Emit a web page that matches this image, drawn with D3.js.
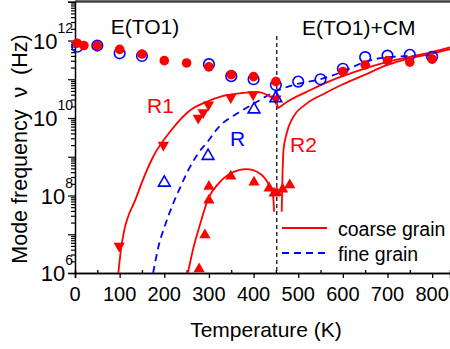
<!DOCTYPE html>
<html><head><meta charset="utf-8">
<script src="https://cdn.jsdelivr.net/npm/d3@7"></script>
<style>
body{margin:0;background:#fff}
svg{display:block}
text{font-family:"Liberation Sans",Arial,Helvetica,sans-serif}
</style>
</head><body>
<svg id="c" width="450" height="349"></svg>
<script>
// ---------------- data (temperature K, frequency Hz) ----------------
const xTicks = [0,100,200,300,400,500,600,700,800];
const xMinorTicks = [50,150,250,350,450,550,650,750];
const yDecades = [1e6,1e7,1e8,1e9,1e10,1e11,1e12,1e13];
const yLabelExps = [6,8,10,12];

// E(TO1) mode, coarse grain (filled red circles)
const coarseTO_T = [5,20,50,100,150,200,250,300,350,400,450,600,650,700,750,800];
const coarseTO_v = [8.51e11,7.41e11,7.41e11,5.89e11,4.47e11,3.02e11,2.63e11,2.09e11,1.32e11,1.17e11,8.71e10,1.58e11,2.34e11,3.02e11,2.75e11,3.31e11];

// E(TO1) mode, fine grain (open blue circles)
const fineTO_T = [5,50,100,150,300,350,400,450,500,550,600,650,700,750,800];
const fineTO_v = [6.92e11,7.41e11,4.68e11,3.98e11,2.45e11,1.20e11,1.00e11,7.08e10,8.71e10,1.00e11,1.86e11,3.72e11,4.07e11,4.27e11,3.80e11];

// R1 relaxation, coarse grain (filled red down triangles)
const coarseR1_T = [99,198,276,287,299,349,399,450];
const coarseR1_v = [5.01e6,2.00e9,1.00e10,1.38e10,2.19e10,3.39e10,4.07e10,3.16e10];

// lower relaxation, coarse grain (filled red up triangles)
const coarseLow_T = [278,291,300,300,349,401,435,446,452,465,481];
const coarseLow_v = [1.26e6,9.55e6,7.59e7,1.70e8,3.16e8,2.19e8,1.55e8,1.15e8,1.17e8,1.45e8,1.86e8];

// R relaxation, fine grain (open blue triangles)
const fineR_T = [200,298,401,450];
const fineR_v = [2.14e8,1.05e9,1.66e10,3.24e10];

// fitted curves
const curveR1a_T = [97,105,138,175,216,258,295,332,377,407,437,452,455];
const curveR1a_v = [1.00e6,5.89e6,9.33e7,1.00e9,4.90e9,1.58e10,2.63e10,3.72e10,4.47e10,4.68e10,3.55e10,2.40e10,1.78e10];
const curveR1b_T = [455,480,520,560,600,650,700,750,800,840];
const curveR1b_v = [1.78e10,2.82e10,4.79e10,7.94e10,1.20e11,1.91e11,2.82e11,3.80e11,5.01e11,6.61e11];
const curveR2_T = [463,465,467,474,489,515,560,600,650,700,750,800,840];
const curveR2_v = [3.80e7,3.98e8,1.48e9,3.98e9,1.07e10,2.19e10,4.37e10,7.41e10,1.32e11,2.34e11,3.47e11,4.57e11,5.89e11];
const curveLow_T = [253,265,280,299,321,350,384,414,433,443,446];
const curveLow_v = [1.00e6,4.37e6,1.78e7,8.51e7,2.00e8,3.80e8,4.79e8,3.72e8,2.04e8,1.15e8,3.80e7];
const curveFine_T = [175,187,202,217,235,254,276,298,320,365,403,443,488,550,600,650,700,750,800];
const curveFine_v = [1.00e6,4.79e6,1.74e7,5.13e7,1.55e8,4.57e8,1.23e9,2.51e9,5.50e9,1.35e10,2.45e10,4.47e10,7.08e10,1.00e11,1.58e11,2.82e11,3.72e11,3.98e11,4.17e11];

const transitionT = 452;
const RED = "#ff0000", BLUE = "#0000ff";

// ---------------- drawing ----------------
const svg = d3.select("#c");
const x = d3.scaleLinear().domain([0,840]).range([75,450]);
const y = d3.scaleLog().domain([1e6,1e13]).range([273,1.75]);
const zip = (T,V) => T.map((t,i)=>[t,V[i]]);

// frame top
svg.append("line").attr("x1",75).attr("x2",450).attr("y1",1.5).attr("y2",1.5)
  .attr("stroke","#404040").attr("stroke-width",2.5);

// x axis
const gx = svg.append("g").attr("transform","translate(0,273)");
gx.call(d3.axisBottom(x).tickValues(xTicks).tickSize(5).tickFormat(""));
gx.append("g").call(d3.axisBottom(x).tickValues(xMinorTicks).tickSize(-3).tickFormat(""));
gx.selectAll("path.domain").attr("stroke","#000").attr("stroke-width",1.5);
gx.selectAll(".tick line").attr("stroke","#000").attr("stroke-width",1.3);
gx.selectAll("text.xl").data(xTicks).enter().append("text")
  .attr("x",d=>x(d)).attr("y",28).attr("text-anchor","middle")
  .attr("font-size",20).attr("fill","#000").text(d=>d);

// y axis
const minor = [];
yDecades.slice(0,-1).forEach(d=>{for(let k=2;k<=9;k++) minor.push(d*k);});
const gy = svg.append("g").attr("transform","translate(75,0)");
gy.call(d3.axisLeft(y).tickValues(yDecades).tickSize(7).tickFormat(""));
gy.append("g").call(d3.axisLeft(y).tickValues(minor).tickSize(4).tickFormat(""));
gy.selectAll("path.domain").attr("stroke","#000").attr("stroke-width",1.5);
gy.selectAll(".tick line").attr("stroke","#000").attr("stroke-width",1.2);
gy.selectAll("path.domain").filter((d,i)=>i>0).remove();

yLabelExps.forEach(e=>{
  const t = svg.append("text").attr("x",73).attr("y",y(Math.pow(10,e))+8)
    .attr("text-anchor","end").attr("font-size",22).attr("fill","#000");
  t.append("tspan").text("10");
  t.append("tspan").attr("dy",-16).attr("font-size",14).text(e);
});

// axis titles
svg.append("text").attr("x",266).attr("y",337).attr("text-anchor","middle")
  .attr("font-size",21).text("Temperature (K)");
svg.append("text").attr("transform","translate(27,149) rotate(-90)")
  .attr("text-anchor","middle").attr("font-size",21.5).style("white-space","pre")
  .text("Mode frequency  ν  (Hz)");

// transition line
svg.append("line").attr("x1",x(transitionT)).attr("x2",x(transitionT))
  .attr("y1",36).attr("y2",273).attr("stroke","#000").attr("stroke-width",1.2)
  .attr("stroke-dasharray","4,3");

// curves
const line = d3.line().x(d=>x(d[0])).y(d=>y(d[1])).curve(d3.curveMonotoneX);
const drawCurve = (T,V,color,dash) => svg.append("path").datum(zip(T,V))
  .attr("d",line).attr("fill","none").attr("stroke",color).attr("stroke-width",1.8)
  .attr("stroke-dasharray",dash||null);
drawCurve(curveFine_T,curveFine_v,BLUE,"7,5");
drawCurve(curveR1a_T,curveR1a_v,RED);
drawCurve(curveR1b_T,curveR1b_v,RED);
drawCurve(curveR2_T,curveR2_v,RED);
drawCurve(curveLow_T,curveLow_v,RED);

// markers
const tri = d3.symbol().type(d3.symbolTriangle);
const pts = (T,V) => zip(T,V);
svg.append("g").selectAll("circle").data(pts(fineTO_T,fineTO_v)).enter().append("circle")
  .attr("cx",d=>x(d[0])).attr("cy",d=>y(d[1])).attr("r",5.3)
  .attr("fill","none").attr("stroke",BLUE).attr("stroke-width",1.6);
svg.append("g").selectAll("circle").data(pts(coarseTO_T,coarseTO_v)).enter().append("circle")
  .attr("cx",d=>x(d[0])).attr("cy",d=>y(d[1])).attr("r",4.8).attr("fill",RED);
svg.append("g").selectAll("path").data(pts(coarseR1_T,coarseR1_v)).enter().append("path")
  .attr("d",tri.size(55)).attr("fill",RED)
  .attr("transform",d=>`translate(${x(d[0])},${y(d[1])}) rotate(180)`);
svg.append("g").selectAll("path").data(pts(coarseLow_T,coarseLow_v)).enter().append("path")
  .attr("d",tri.size(55)).attr("fill",RED)
  .attr("transform",d=>`translate(${x(d[0])},${y(d[1])})`);
svg.append("g").selectAll("path").data(pts(fineR_T,fineR_v)).enter().append("path")
  .attr("d",d3.symbol().type(d3.symbolTriangle).size(60)).attr("fill","none")
  .attr("stroke",BLUE).attr("stroke-width",1.6)
  .attr("transform",d=>`translate(${x(d[0])},${y(d[1])})`);

// annotations
svg.append("text").attr("x",145).attr("y",33.5).attr("text-anchor","middle").attr("font-size",21).text("E(TO1)");
svg.append("text").attr("x",302).attr("y",35).attr("font-size",21).text("E(TO1)+CM");
svg.append("text").attr("x",147).attr("y",113).attr("font-size",21).attr("fill",RED).text("R1");
svg.append("text").attr("x",230).attr("y",146).attr("font-size",21).attr("fill",BLUE).text("R");
svg.append("text").attr("x",290).attr("y",152).attr("font-size",21).attr("fill",RED).text("R2");

// legend
const leg = [{label:"coarse grain",color:RED,dash:null,y:228},{label:"fine grain",color:BLUE,dash:"7,5",y:253}];
leg.forEach(l=>{
  svg.append("line").attr("x1",282).attr("x2",327).attr("y1",l.y).attr("y2",l.y)
    .attr("stroke",l.color).attr("stroke-width",1.8).attr("stroke-dasharray",l.dash);
  svg.append("text").attr("x",338).attr("y",l.y+7.5).attr("font-size",19.5).text(l.label);
});
</script>
</body></html>
